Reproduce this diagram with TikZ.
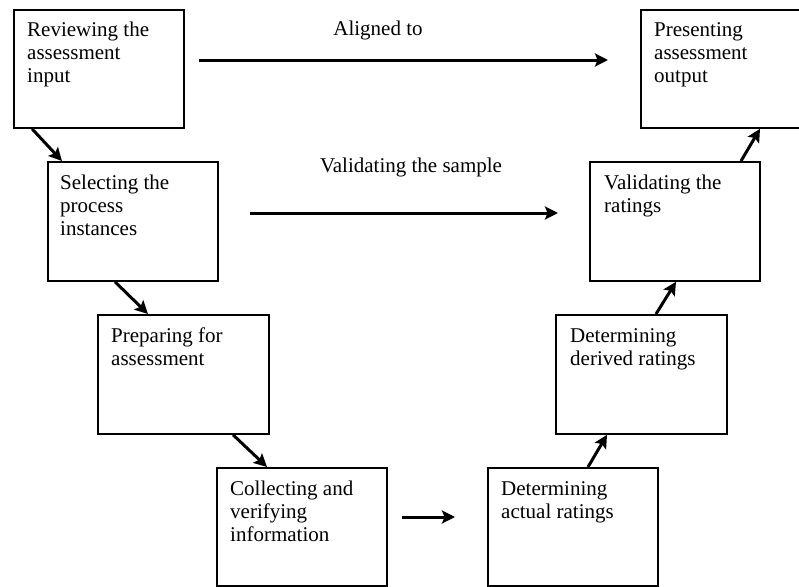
\documentclass[tikz,border=0pt]{standalone}
\usepackage{fontspec}
\setmainfont{Liberation Serif}
\usetikzlibrary{calc,arrows.meta}
\tikzset{
  x=1pt, y=-1pt,
  box/.style={draw, line width=1.8pt, inner sep=0pt, minimum width=170pt, minimum height=118pt, anchor=north west},
  boxtext/.style={anchor=base west, inner sep=0pt, font=\fontsize{21}{23}\selectfont},
  lbl/.style={anchor=base, inner sep=0pt, font=\fontsize{21}{23}\selectfont},
  flow/.style={line width=3pt, -{Stealth[length=13pt,width=13pt,inset=2.5pt]}},
}
\newcommand{\lines}[1]{\begin{tabular}[t]{@{}l@{}}#1\end{tabular}}
\begin{document}
\begin{tikzpicture}
\useasboundingbox (0,0) rectangle (799,586);
% boxes
\node[box] (rev) at (13,9) {};
\node[box, minimum height=119pt] (sel) at (47,161) {};
\node[box, minimum width=171pt, minimum height=119pt] (prep) at (97,314) {};
\node[box] (coll) at (216,467) {};
\node[box] (act) at (487,467) {};
\node[box, minimum width=171pt, minimum height=119pt] (der) at (555,314) {};
\node[box, minimum height=119pt] (val) at (589,161) {};
\node[box, minimum width=160pt] (pres) at (640,9) {};
% texts
\node[boxtext] (trev) at ($(rev.north west)+(14,28)$) {\lines{Reviewing the\\assessment\\input}};
\node[boxtext] (tsel) at ($(sel.north west)+(13,28)$) {\lines{Selecting the\\process\\instances}};
\node[boxtext] (tprep) at ($(prep.north west)+(14,28)$) {\lines{Preparing for\\assessment}};
\node[boxtext] (tcoll) at ($(coll.north west)+(14,28)$) {\lines{Collecting and\\verifying\\information}};
\node[boxtext] (tact) at ($(act.north west)+(14,28)$) {\lines{Determining\\actual ratings}};
\node[boxtext] (tder) at ($(der.north west)+(15,28)$) {\lines{Determining\\derived ratings}};
\node[boxtext] (tval) at ($(val.north west)+(15,28)$) {\lines{Validating the\\ratings}};
\node[boxtext] (tpres) at ($(pres.north west)+(14,28)$) {\lines{Presenting\\assessment\\output}};
% labels
\node[lbl] (laligned) at (378,36) {Aligned to};
\node[lbl] (lsample) at (411,172) {Validating the sample};
% free ends of horizontal arrows
\coordinate (a1s) at (199,60);
\coordinate (a1e) at (608,60);
\coordinate (a2s) at (250,213);
\coordinate (a2e) at (558,213);
\coordinate (a3s) at (402,517);
\coordinate (a3e) at (455,517);
\draw[flow] (a1s) -- (a1e);
\draw[flow] (a2s) -- (a2e);
\draw[flow] (a3s) -- (a3e);
% diagonal connectors
\draw[flow] ($(rev.south west)+(19,0)$) -- ($(sel.north west)+(15,0)$);
\draw[flow] ($(sel.south west)+(68,0)$) -- ($(prep.north west)+(51,0)$);
\draw[flow] ($(prep.south west)+(136,0)$) -- ($(coll.north west)+(51,0)$);
\draw[flow] ($(act.north west)+(101,0)$) -- ($(der.south west)+(52,0)$);
\draw[flow] ($(der.north west)+(101,0)$) -- ($(val.south west)+(87,0)$);
\draw[flow] ($(val.north west)+(152,0)$) -- ($(pres.south west)+(120,0)$);
\end{tikzpicture}
\end{document}
